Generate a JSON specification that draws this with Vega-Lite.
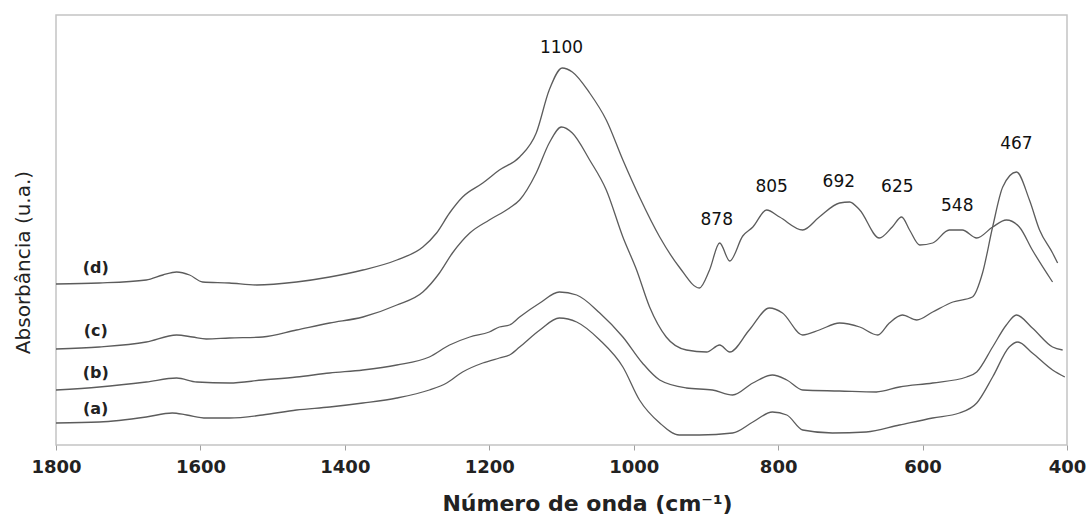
{
  "$schema": "https://vega.github.io/schema/vega-lite/v6.json",
  "autosize": {"type": "none"},
  "padding": {"left": 56, "top": 15, "right": 21, "bottom": 72},
  "width": 1011,
  "height": 430,
  "background": "white",
  "config": {
    "view": {"stroke": "#c4c4c4", "strokeWidth": 1.5},
    "font": "DejaVu Sans"
  },
  "datasets": {
    "spectra": [
      {"s": "d", "wn": 1800, "abs": 161}, {"s": "d", "wn": 1740, "abs": 162}, {"s": "d", "wn": 1675, "abs": 165}, {"s": "d", "wn": 1652, "abs": 170}, {"s": "d", "wn": 1633, "abs": 173}, {"s": "d", "wn": 1615, "abs": 170}, {"s": "d", "wn": 1597, "abs": 163}, {"s": "d", "wn": 1560, "abs": 162}, {"s": "d", "wn": 1522, "abs": 160}, {"s": "d", "wn": 1467, "abs": 163}, {"s": "d", "wn": 1421, "abs": 168}, {"s": "d", "wn": 1375, "abs": 175}, {"s": "d", "wn": 1328, "abs": 185}, {"s": "d", "wn": 1292, "abs": 198}, {"s": "d", "wn": 1273, "abs": 212}, {"s": "d", "wn": 1255, "abs": 232}, {"s": "d", "wn": 1237, "abs": 248}, {"s": "d", "wn": 1209, "abs": 262}, {"s": "d", "wn": 1186, "abs": 275}, {"s": "d", "wn": 1158, "abs": 288}, {"s": "d", "wn": 1135, "abs": 312}, {"s": "d", "wn": 1117, "abs": 355}, {"s": "d", "wn": 1099, "abs": 377}, {"s": "d", "wn": 1085, "abs": 373}, {"s": "d", "wn": 1061, "abs": 352}, {"s": "d", "wn": 1038, "abs": 325}, {"s": "d", "wn": 1015, "abs": 285}, {"s": "d", "wn": 992, "abs": 248}, {"s": "d", "wn": 964, "abs": 208}, {"s": "d", "wn": 937, "abs": 178}, {"s": "d", "wn": 909, "abs": 157}, {"s": "d", "wn": 895, "abs": 175}, {"s": "d", "wn": 881, "abs": 202}, {"s": "d", "wn": 867, "abs": 184}, {"s": "d", "wn": 849, "abs": 209}, {"s": "d", "wn": 835, "abs": 218}, {"s": "d", "wn": 816, "abs": 235}, {"s": "d", "wn": 798, "abs": 228}, {"s": "d", "wn": 766, "abs": 215}, {"s": "d", "wn": 743, "abs": 228}, {"s": "d", "wn": 715, "abs": 242}, {"s": "d", "wn": 701, "abs": 243}, {"s": "d", "wn": 687, "abs": 235}, {"s": "d", "wn": 660, "abs": 207}, {"s": "d", "wn": 642, "abs": 218}, {"s": "d", "wn": 629, "abs": 228}, {"s": "d", "wn": 618, "abs": 215}, {"s": "d", "wn": 604, "abs": 200}, {"s": "d", "wn": 586, "abs": 202}, {"s": "d", "wn": 563, "abs": 215}, {"s": "d", "wn": 545, "abs": 215}, {"s": "d", "wn": 525, "abs": 207}, {"s": "d", "wn": 503, "abs": 218}, {"s": "d", "wn": 484, "abs": 225}, {"s": "d", "wn": 466, "abs": 218}, {"s": "d", "wn": 448, "abs": 195}, {"s": "d", "wn": 420, "abs": 163},
      {"s": "c", "wn": 1800, "abs": 96}, {"s": "c", "wn": 1740, "abs": 98}, {"s": "c", "wn": 1675, "abs": 103}, {"s": "c", "wn": 1633, "abs": 110}, {"s": "c", "wn": 1611, "abs": 108}, {"s": "c", "wn": 1592, "abs": 106}, {"s": "c", "wn": 1560, "abs": 107}, {"s": "c", "wn": 1514, "abs": 108}, {"s": "c", "wn": 1467, "abs": 115}, {"s": "c", "wn": 1421, "abs": 122}, {"s": "c", "wn": 1375, "abs": 128}, {"s": "c", "wn": 1328, "abs": 140}, {"s": "c", "wn": 1292, "abs": 153}, {"s": "c", "wn": 1269, "abs": 172}, {"s": "c", "wn": 1251, "abs": 192}, {"s": "c", "wn": 1227, "abs": 212}, {"s": "c", "wn": 1200, "abs": 225}, {"s": "c", "wn": 1172, "abs": 237}, {"s": "c", "wn": 1158, "abs": 245}, {"s": "c", "wn": 1135, "abs": 272}, {"s": "c", "wn": 1117, "abs": 302}, {"s": "c", "wn": 1100, "abs": 318}, {"s": "c", "wn": 1085, "abs": 312}, {"s": "c", "wn": 1061, "abs": 285}, {"s": "c", "wn": 1038, "abs": 255}, {"s": "c", "wn": 1015, "abs": 208}, {"s": "c", "wn": 996, "abs": 175}, {"s": "c", "wn": 978, "abs": 138}, {"s": "c", "wn": 955, "abs": 108}, {"s": "c", "wn": 927, "abs": 95}, {"s": "c", "wn": 899, "abs": 93}, {"s": "c", "wn": 881, "abs": 100}, {"s": "c", "wn": 867, "abs": 93}, {"s": "c", "wn": 840, "abs": 115}, {"s": "c", "wn": 812, "abs": 137}, {"s": "c", "wn": 794, "abs": 132}, {"s": "c", "wn": 766, "abs": 110}, {"s": "c", "wn": 743, "abs": 115}, {"s": "c", "wn": 715, "abs": 122}, {"s": "c", "wn": 687, "abs": 118}, {"s": "c", "wn": 662, "abs": 110}, {"s": "c", "wn": 646, "abs": 122}, {"s": "c", "wn": 628, "abs": 130}, {"s": "c", "wn": 608, "abs": 125}, {"s": "c", "wn": 586, "abs": 133}, {"s": "c", "wn": 558, "abs": 143}, {"s": "c", "wn": 531, "abs": 148}, {"s": "c", "wn": 517, "abs": 172}, {"s": "c", "wn": 503, "abs": 218}, {"s": "c", "wn": 489, "abs": 258}, {"s": "c", "wn": 470, "abs": 273}, {"s": "c", "wn": 452, "abs": 245}, {"s": "c", "wn": 438, "abs": 215}, {"s": "c", "wn": 420, "abs": 192}, {"s": "c", "wn": 413, "abs": 182},
      {"s": "b", "wn": 1800, "abs": 55}, {"s": "b", "wn": 1740, "abs": 58}, {"s": "b", "wn": 1675, "abs": 63}, {"s": "b", "wn": 1633, "abs": 67}, {"s": "b", "wn": 1605, "abs": 63}, {"s": "b", "wn": 1560, "abs": 62}, {"s": "b", "wn": 1514, "abs": 65}, {"s": "b", "wn": 1467, "abs": 68}, {"s": "b", "wn": 1421, "abs": 72}, {"s": "b", "wn": 1375, "abs": 75}, {"s": "b", "wn": 1328, "abs": 80}, {"s": "b", "wn": 1283, "abs": 88}, {"s": "b", "wn": 1255, "abs": 100}, {"s": "b", "wn": 1227, "abs": 108}, {"s": "b", "wn": 1200, "abs": 113}, {"s": "b", "wn": 1186, "abs": 118}, {"s": "b", "wn": 1172, "abs": 120}, {"s": "b", "wn": 1158, "abs": 128}, {"s": "b", "wn": 1130, "abs": 142}, {"s": "b", "wn": 1103, "abs": 153}, {"s": "b", "wn": 1079, "abs": 150}, {"s": "b", "wn": 1047, "abs": 132}, {"s": "b", "wn": 1015, "abs": 108}, {"s": "b", "wn": 988, "abs": 82}, {"s": "b", "wn": 964, "abs": 65}, {"s": "b", "wn": 927, "abs": 57}, {"s": "b", "wn": 891, "abs": 55}, {"s": "b", "wn": 863, "abs": 50}, {"s": "b", "wn": 835, "abs": 62}, {"s": "b", "wn": 808, "abs": 70}, {"s": "b", "wn": 788, "abs": 65}, {"s": "b", "wn": 766, "abs": 55}, {"s": "b", "wn": 715, "abs": 54}, {"s": "b", "wn": 664, "abs": 53}, {"s": "b", "wn": 632, "abs": 58}, {"s": "b", "wn": 586, "abs": 62}, {"s": "b", "wn": 539, "abs": 68}, {"s": "b", "wn": 525, "abs": 73}, {"s": "b", "wn": 503, "abs": 98}, {"s": "b", "wn": 484, "abs": 120}, {"s": "b", "wn": 470, "abs": 130}, {"s": "b", "wn": 448, "abs": 117}, {"s": "b", "wn": 420, "abs": 98}, {"s": "b", "wn": 406, "abs": 95},
      {"s": "a", "wn": 1800, "abs": 22}, {"s": "a", "wn": 1740, "abs": 23}, {"s": "a", "wn": 1675, "abs": 28}, {"s": "a", "wn": 1639, "abs": 32}, {"s": "a", "wn": 1619, "abs": 30}, {"s": "a", "wn": 1592, "abs": 27}, {"s": "a", "wn": 1560, "abs": 27}, {"s": "a", "wn": 1514, "abs": 30}, {"s": "a", "wn": 1467, "abs": 35}, {"s": "a", "wn": 1421, "abs": 38}, {"s": "a", "wn": 1375, "abs": 42}, {"s": "a", "wn": 1328, "abs": 47}, {"s": "a", "wn": 1283, "abs": 55}, {"s": "a", "wn": 1259, "abs": 62}, {"s": "a", "wn": 1237, "abs": 73}, {"s": "a", "wn": 1209, "abs": 82}, {"s": "a", "wn": 1186, "abs": 87}, {"s": "a", "wn": 1172, "abs": 90}, {"s": "a", "wn": 1158, "abs": 98}, {"s": "a", "wn": 1130, "abs": 115}, {"s": "a", "wn": 1103, "abs": 127}, {"s": "a", "wn": 1079, "abs": 123}, {"s": "a", "wn": 1047, "abs": 105}, {"s": "a", "wn": 1015, "abs": 78}, {"s": "a", "wn": 992, "abs": 45}, {"s": "a", "wn": 964, "abs": 22}, {"s": "a", "wn": 937, "abs": 10}, {"s": "a", "wn": 909, "abs": 10}, {"s": "a", "wn": 863, "abs": 12}, {"s": "a", "wn": 835, "abs": 23}, {"s": "a", "wn": 808, "abs": 33}, {"s": "a", "wn": 788, "abs": 30}, {"s": "a", "wn": 766, "abs": 15}, {"s": "a", "wn": 725, "abs": 12}, {"s": "a", "wn": 678, "abs": 13}, {"s": "a", "wn": 632, "abs": 20}, {"s": "a", "wn": 586, "abs": 27}, {"s": "a", "wn": 549, "abs": 32}, {"s": "a", "wn": 525, "abs": 42}, {"s": "a", "wn": 503, "abs": 68}, {"s": "a", "wn": 480, "abs": 98}, {"s": "a", "wn": 468, "abs": 103}, {"s": "a", "wn": 448, "abs": 92}, {"s": "a", "wn": 420, "abs": 75}, {"s": "a", "wn": 403, "abs": 68}
    ],
    "peaks": [
      {"wn": 1100, "abs": 397, "t": "1100"},
      {"wn": 885, "abs": 225, "t": "878"},
      {"wn": 809, "abs": 258, "t": "805"},
      {"wn": 716, "abs": 263, "t": "692"},
      {"wn": 635, "abs": 258, "t": "625"},
      {"wn": 552, "abs": 239, "t": "548"},
      {"wn": 470, "abs": 301, "t": "467"}
    ],
    "curves": [
      {"wn": 1745, "abs": 177, "t": "(d)"},
      {"wn": 1745, "abs": 114, "t": "(c)"},
      {"wn": 1745, "abs": 72, "t": "(b)"},
      {"wn": 1745, "abs": 36, "t": "(a)"}
    ]
  },
  "layer": [
    {
      "data": {"name": "spectra"},
      "mark": {"type": "line", "color": "#5c5c5c", "strokeWidth": 1.3, "interpolate": "monotone"},
      "encoding": {
        "x": {
          "field": "wn", "type": "quantitative",
          "scale": {"domain": [400, 1800], "reverse": true, "nice": false, "zero": false},
          "axis": {
            "values": [400, 600, 800, 1000, 1200, 1400, 1600, 1800],
            "format": "d",
            "grid": false,
            "domain": false,
            "labelFlush": false,
            "labelOverlap": false,
            "tickColor": "#a0a0a0",
            "tickSize": 5,
            "labelFont": "DejaVu Sans",
            "labelFontSize": 18,
            "labelFontWeight": "bold",
            "labelColor": "#222222",
            "labelPadding": 8,
            "title": "Número de onda (cm⁻¹)",
            "titleFont": "DejaVu Sans",
            "titleFontSize": 22,
            "titleFontWeight": "bold",
            "titleColor": "#222222",
            "titleX": 531,
            "titleY": 58,
            "titleAlign": "center",
            "titleBaseline": "middle"
          }
        },
        "y": {
          "field": "abs", "type": "quantitative",
          "scale": {"domain": [0, 430], "nice": false},
          "axis": {
            "labels": false, "ticks": false, "domain": false, "grid": false,
            "title": "Absorbância (u.a.)",
            "titleFont": "DejaVu Sans",
            "titleFontSize": 20,
            "titleFontWeight": "normal",
            "titleColor": "#222222",
            "titleAngle": 270,
            "titleX": -33,
            "titleY": 247,
            "titleAlign": "center",
            "titleBaseline": "middle"
          }
        },
        "detail": {"field": "s", "type": "nominal"}
      }
    },
    {
      "data": {"name": "peaks"},
      "mark": {"type": "text", "font": "DejaVu Sans", "fontSize": 17, "color": "#111111", "align": "center", "baseline": "middle"},
      "encoding": {
        "x": {"field": "wn", "type": "quantitative"},
        "y": {"field": "abs", "type": "quantitative"},
        "text": {"field": "t", "type": "nominal"}
      }
    },
    {
      "data": {"name": "curves"},
      "mark": {"type": "text", "font": "DejaVu Sans", "fontSize": 16, "fontWeight": "bold", "color": "#222222", "align": "center", "baseline": "middle"},
      "encoding": {
        "x": {"field": "wn", "type": "quantitative"},
        "y": {"field": "abs", "type": "quantitative"},
        "text": {"field": "t", "type": "nominal"}
      }
    }
  ]
}
